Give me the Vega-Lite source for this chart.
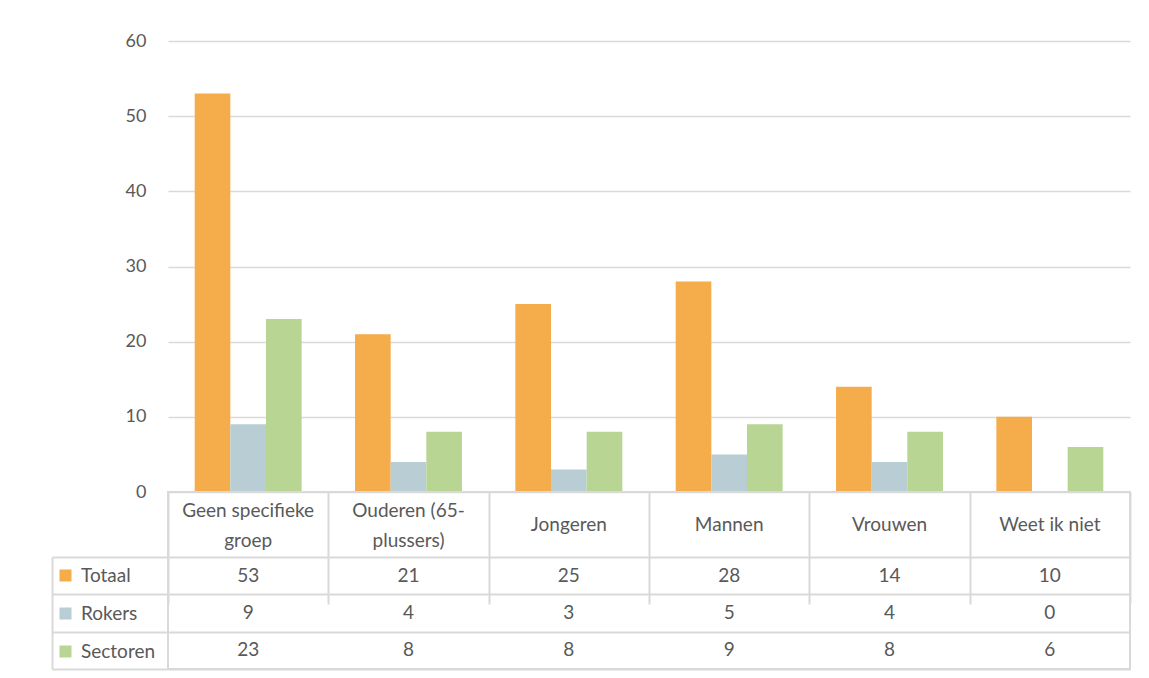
{
  "$schema": "https://vega.github.io/schema/vega-lite/v6.json",
  "padding": {"left": 50, "top": 32, "right": 19, "bottom": 9},
  "background": "white",
  "spacing": 0,
  "bounds": "flush",
  "config": {
    "font": "Lato",
    "view": {"stroke": null},
    "axis": {"labelColor": "#595959", "labelFont": "Lato"},
    "legend": {"labelFont": "Lato"}
  },
  "data": {
    "values": [
      {"groep": "Geen specifieke groep", "reeks": "Totaal", "waarde": 53},
      {"groep": "Geen specifieke groep", "reeks": "Rokers", "waarde": 9},
      {"groep": "Geen specifieke groep", "reeks": "Sectoren", "waarde": 23},
      {"groep": "Ouderen (65-plussers)", "reeks": "Totaal", "waarde": 21},
      {"groep": "Ouderen (65-plussers)", "reeks": "Rokers", "waarde": 4},
      {"groep": "Ouderen (65-plussers)", "reeks": "Sectoren", "waarde": 8},
      {"groep": "Jongeren", "reeks": "Totaal", "waarde": 25},
      {"groep": "Jongeren", "reeks": "Rokers", "waarde": 3},
      {"groep": "Jongeren", "reeks": "Sectoren", "waarde": 8},
      {"groep": "Mannen", "reeks": "Totaal", "waarde": 28},
      {"groep": "Mannen", "reeks": "Rokers", "waarde": 5},
      {"groep": "Mannen", "reeks": "Sectoren", "waarde": 9},
      {"groep": "Vrouwen", "reeks": "Totaal", "waarde": 14},
      {"groep": "Vrouwen", "reeks": "Rokers", "waarde": 4},
      {"groep": "Vrouwen", "reeks": "Sectoren", "waarde": 8},
      {"groep": "Weet ik niet", "reeks": "Totaal", "waarde": 10},
      {"groep": "Weet ik niet", "reeks": "Rokers", "waarde": 0},
      {"groep": "Weet ik niet", "reeks": "Sectoren", "waarde": 6}
    ]
  },
  "vconcat": [
    {
      "width": 962,
      "height": 451,
      "mark": {"type": "bar"},
      "encoding": {
        "x": {
          "field": "groep", "type": "nominal",
          "sort": ["Geen specifieke groep", "Ouderen (65-plussers)", "Jongeren", "Mannen", "Vrouwen", "Weet ik niet"],
          "scale": {"paddingInner": 0.333, "paddingOuter": 0.1665},
          "axis": {
            "title": null, "labelAngle": 0, "domain": false, "ticks": false,
            "labelFontSize": 19, "labelBaseline": "middle",
            "labelPadding": {"condition": {"test": "datum.value == 'Geen specifieke groep' || datum.value == 'Ouderen (65-plussers)'", "value": 18}, "value": 32},
            "labelLineHeight": 30, "labelLimit": 0,
            "labelExpr": "datum.value == 'Geen specifieke groep' ? ['Geen specifieke', 'groep'] : datum.value == 'Ouderen (65-plussers)' ? ['Ouderen (65-', 'plussers)'] : datum.value"
          }
        },
        "xOffset": {
          "field": "reeks", "type": "nominal",
          "sort": ["Totaal", "Rokers", "Sectoren"],
          "scale": {"paddingInner": 0, "paddingOuter": 0}
        },
        "y": {
          "field": "waarde", "type": "quantitative",
          "scale": {"domain": [0, 60]},
          "axis": {
            "title": null, "values": [0, 10, 20, 30, 40, 50, 60],
            "domain": false, "ticks": false, "grid": true,
            "gridColor": "#d9d9d9", "gridWidth": 1.5,
            "labelFontSize": 18, "labelPadding": 22
          }
        },
        "color": {
          "field": "reeks", "type": "nominal",
          "scale": {"domain": ["Totaal", "Rokers", "Sectoren"], "range": ["#F5AD4C", "#B8CDD4", "#B9D594"]},
          "legend": {
            "title": null, "orient": "none", "legendX": -112, "legendY": 525,
            "symbolType": "square", "symbolSize": 144, "symbolStrokeWidth": 0,
            "labelFontSize": 19, "labelColor": "#595959", "rowPadding": 18,
            "labelOffset": 6, "padding": 0
          }
        }
      }
    },
    {
      "width": 962,
      "height": 177,
      "view": {"stroke": "#d9d9d9", "strokeWidth": 2},
      "mark": {"type": "text", "fontSize": 19, "color": "#595959", "font": "Lato"},
      "encoding": {
        "x": {
          "field": "groep", "type": "nominal",
          "sort": ["Geen specifieke groep", "Ouderen (65-plussers)", "Jongeren", "Mannen", "Vrouwen", "Weet ik niet"],
          "scale": {"paddingInner": 0, "paddingOuter": 0},
          "axis": {
            "title": null, "labels": false, "ticks": false, "domain": false,
            "grid": true, "tickBand": "extent", "gridColor": "#d9d9d9", "gridWidth": 2
          }
        },
        "y": {
          "field": "reeks", "type": "nominal",
          "sort": ["Totaal", "Rokers", "Sectoren"],
          "scale": {"range": [65, 177], "paddingInner": 0, "paddingOuter": 0},
          "axis": {
            "title": null, "labels": false, "offset": 116,
            "domain": true, "domainColor": "#d9d9d9", "domainWidth": 2,
            "ticks": true, "tickSize": -116, "tickColor": "#d9d9d9", "tickWidth": 2,
            "tickBand": "extent", "grid": true, "gridColor": "#d9d9d9", "gridWidth": 2
          }
        },
        "text": {"field": "waarde", "type": "quantitative"}
      }
    }
  ]
}
